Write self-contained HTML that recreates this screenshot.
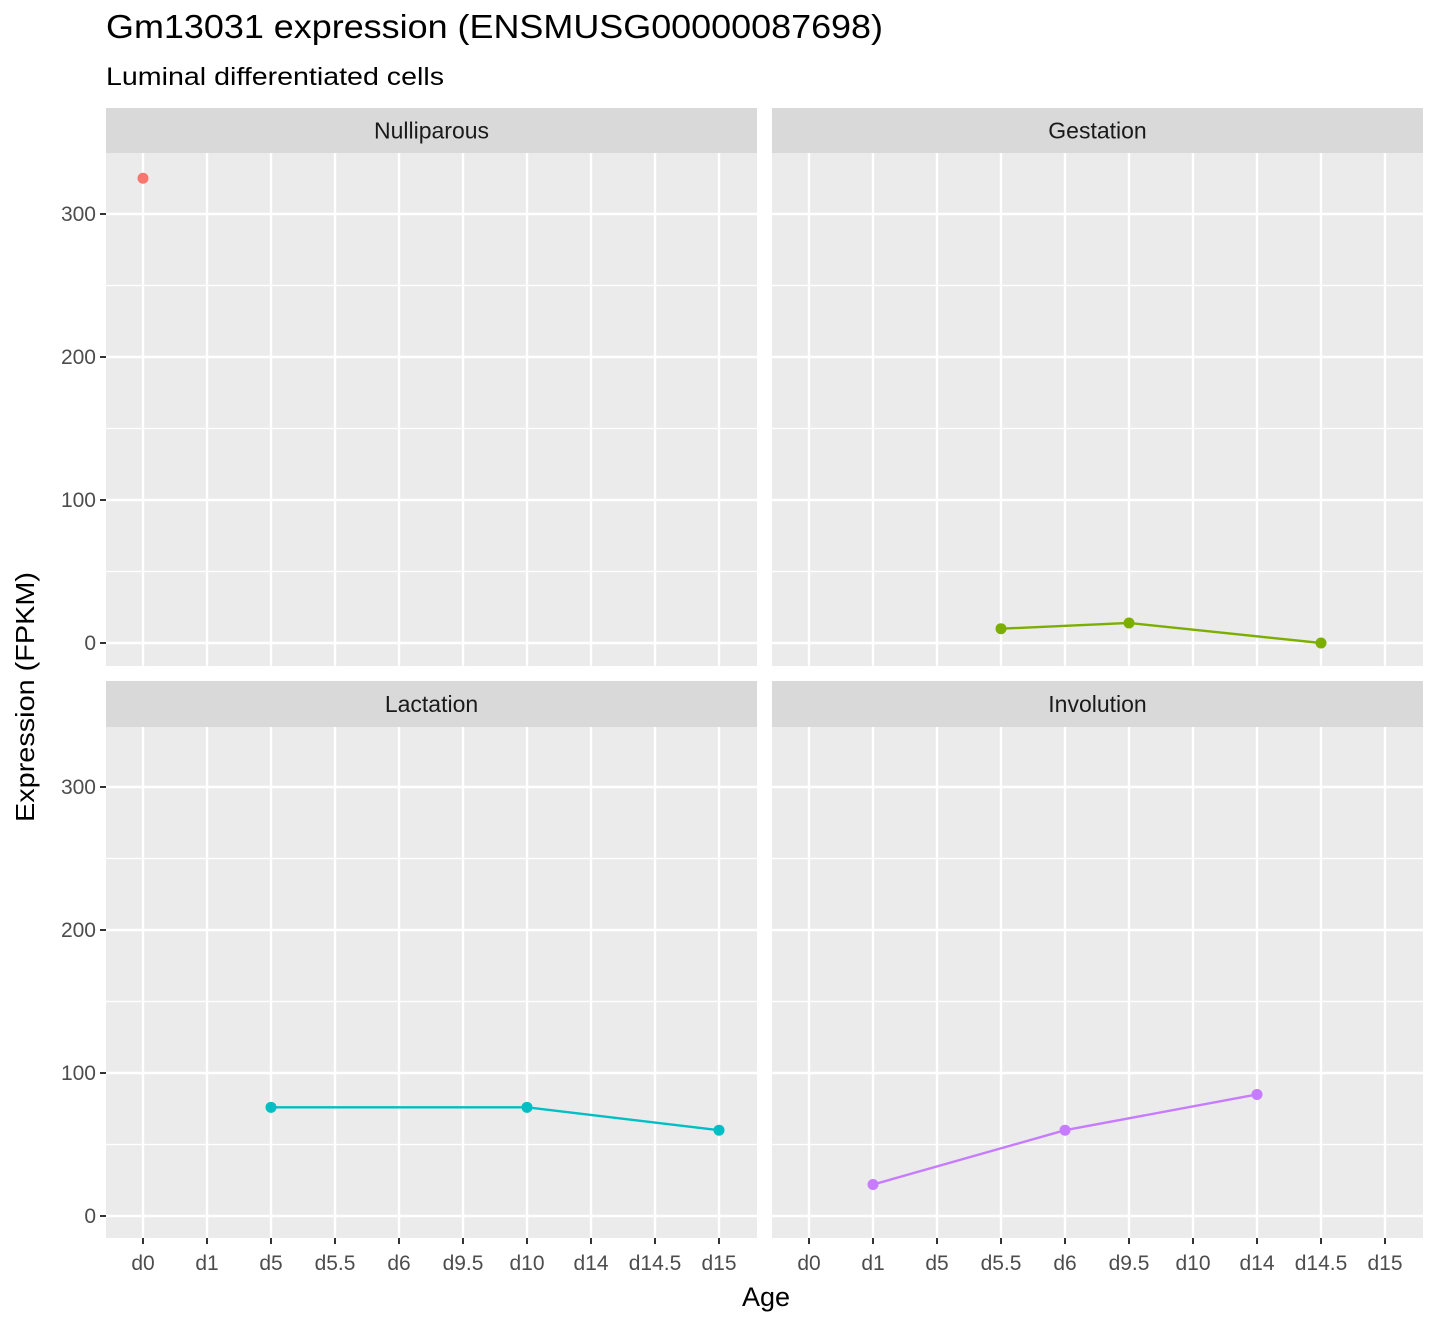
<!DOCTYPE html>
<html><head><meta charset="utf-8">
<style>
body{margin:0;background:#fff;}
svg{display:block;font-family:"Liberation Sans",sans-serif;}
</style></head>
<body>
<svg id="chart" width="1434" height="1324">
<text x="106" y="38" font-size="33" textLength="777" lengthAdjust="spacingAndGlyphs" fill="#000">Gm13031 expression (ENSMUSG00000087698)</text>
<text x="106" y="85" font-size="25" textLength="338" lengthAdjust="spacingAndGlyphs" fill="#000">Luminal differentiated cells</text>
<text x="766" y="1306" font-size="27" text-anchor="middle" fill="#000">Age</text>
<text transform="translate(34,697) rotate(-90)" font-size="26" text-anchor="middle" textLength="250" lengthAdjust="spacingAndGlyphs" fill="#000">Expression (FPKM)</text>
</svg>
<script>
const categories = ["d0","d1","d5","d5.5","d6","d9.5","d10","d14","d14.5","d15"];
const yTicks = [0,100,200,300];
const yMinor = [50,150,250];
const panelNames = ["Nulliparous","Gestation","Lactation","Involution"];
const colors = ["#F8766D","#7CAE00","#00BFC4","#C77CFF"];
const nullAges = ["d0"];
const nullVals = [325];
const gestAges = ["d5.5","d9.5","d14.5"];
const gestVals = [10,14,0];
const lactAges = ["d5","d10","d15"];
const lactVals = [76,76,60];
const invAges = ["d1","d6","d14"];
const invVals = [22,60,85];
const series = [[nullAges,nullVals],[gestAges,gestVals],[lactAges,lactVals],[invAges,invVals]];

const svg = document.getElementById('chart');
const NS = "http://www.w3.org/2000/svg";
function mk(tag, attrs, parent){
  const e = document.createElementNS(NS, tag);
  for (const k in attrs) e.setAttribute(k, attrs[k]);
  (parent||svg).appendChild(e); return e;
}
const panels = [
  {x:106, top:108, y0:153, y1:666},
  {x:772, top:108, y0:153, y1:666},
  {x:106, top:681, y0:727, y1:1238},
  {x:772, top:681, y0:727, y1:1238}
];
const W = 651;
panels.forEach((p, i) => {
  const zeroY = i < 2 ? 643 : 1216;
  const ys = v => zeroY - v * 1.43;
  const xs = c => p.x + 37 + categories.indexOf(c) * 64;
  const g = mk('g', {});
  
  
  const bg = mk('rect', {x:p.x, y:p.y0, width:W, height:p.y1-p.y0, fill:'#EBEBEB'}, g);
  
  
  yMinor.forEach(v => mk('line', {x1:p.x, x2:p.x+W, y1:ys(v), y2:ys(v), stroke:'#fff', 'stroke-width':1.2}, g));
  yTicks.forEach(v => mk('line', {x1:p.x, x2:p.x+W, y1:ys(v), y2:ys(v), stroke:'#fff', 'stroke-width':2.4}, g));
  categories.forEach(c => mk('line', {x1:xs(c), x2:xs(c), y1:p.y0, y2:p.y1, stroke:'#fff', 'stroke-width':2.4}, g));
  const st = mk('rect', {x:p.x, y:p.top, width:W, height:p.y0-p.top, fill:'#D9D9D9'}, g);
  
  
  const stt = mk('text', {x:p.x+W/2, y:(p.top+p.y0)/2+8, 'font-size':23, 'text-anchor':'middle', fill:'#1A1A1A'}, g);
  stt.textContent = panelNames[i];
  
  
  if (p.x === 106) {
    yTicks.forEach(v => {
      mk('line', {x1:p.x-6, x2:p.x, y1:ys(v), y2:ys(v), stroke:'#333', 'stroke-width':2}, g);
      const t = mk('text', {x:p.x-10, y:ys(v)+7, 'font-size':21, 'text-anchor':'end', fill:'#4D4D4D'}, g);
      t.textContent = v;
      
      
    });
  }
  if (i >= 2) {
    categories.forEach(c => {
      mk('line', {x1:xs(c), x2:xs(c), y1:p.y1, y2:p.y1+6, stroke:'#333', 'stroke-width':2}, g);
      const t = mk('text', {x:xs(c), y:p.y1+32, 'font-size':21, 'text-anchor':'middle', fill:'#4D4D4D'}, g);
      t.textContent = c;
      
      
    });
  }
  const [ages, vals] = series[i];
  if (ages.length > 1) {
    const pts = ages.map((a, k) => xs(a) + ',' + ys(vals[k])).join(' ');
    const pl = mk('polyline', {points:pts, fill:'none', stroke:colors[i], 'stroke-width':2.4}, g);
    
    
  }
  ages.forEach((a, k) => {
    const c = mk('circle', {cx:xs(a), cy:ys(vals[k]), r:5.5, fill:colors[i]}, g);
    
    
  });
});
</script>
</body></html>
